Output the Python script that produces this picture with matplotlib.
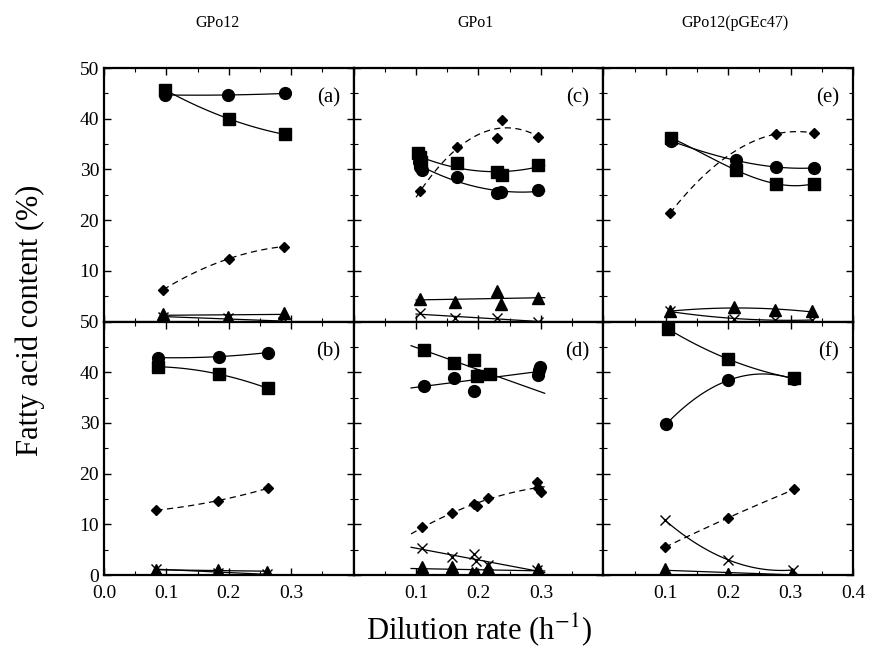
import numpy as np
import matplotlib
matplotlib.use("Agg")
import matplotlib.pyplot as plt
from matplotlib.ticker import MultipleLocator, FixedLocator

plt.rcParams['font.family'] = ['Liberation Serif', 'DejaVu Serif']
plt.rcParams['mathtext.fontset'] = 'stix'

strains = ["GPo12", "GPo1", "GPo12(pGEc47)"]
letters = ["a", "b", "c", "d", "e", "f"]

# (a) GPo12, upper
a_circ_x = [0.097, 0.199, 0.290]
a_circ_y = [44.7, 44.7, 45.0]
a_sq_x = [0.098, 0.200, 0.290]
a_sq_y = [45.7, 40.0, 36.9]
a_dia_x = [0.095, 0.200, 0.288]
a_dia_y = [6.3, 12.4, 14.8]
a_tri_x = [0.095, 0.198, 0.288]
a_tri_y = [1.4, 1.0, 1.6]
a_x_x = [0.095, 0.198, 0.287]
a_x_y = [0.9, 0.7, 0.0]

# (b) GPo12, lower
b_circ_x = [0.086, 0.185, 0.263]
b_circ_y = [42.9, 43.1, 43.9]
b_sq_x = [0.086, 0.185, 0.263]
b_sq_y = [41.1, 39.6, 36.8]
b_dia_x = [0.084, 0.183, 0.262]
b_dia_y = [12.8, 14.7, 17.1]
b_tri_x = [0.084, 0.182, 0.261]
b_tri_y = [1.0, 1.0, 0.7]
b_x_x = [0.084, 0.182, 0.261]
b_x_y = [1.2, 0.5, 0.2]

# (c) GPo1, upper
c_circ_x = [0.105, 0.107, 0.109, 0.165, 0.230, 0.236, 0.296]
c_circ_y = [31.5, 30.5, 29.8, 28.5, 25.3, 25.6, 25.9]
c_sq_x = [0.103, 0.106, 0.108, 0.165, 0.230, 0.237, 0.296]
c_sq_y = [33.3, 32.5, 31.5, 31.2, 29.5, 28.9, 30.8]
c_dia_x = [0.107, 0.165, 0.237, 0.230, 0.296]
c_dia_y = [25.7, 34.4, 39.8, 36.2, 36.5]
c_tri_x = [0.107, 0.163, 0.229, 0.236, 0.295]
c_tri_y = [4.5, 3.8, 6.1, 3.5, 4.6]
c_x_x = [0.107, 0.163, 0.230, 0.296]
c_x_y = [1.6, 0.7, 0.7, 0.0]

# (d) GPo1, lower
d_circ_x = [0.112, 0.160, 0.193, 0.197, 0.297, 0.299, 0.296]
d_circ_y = [37.3, 38.9, 36.4, 39.4, 40.4, 41.0, 39.4]
d_sq_x = [0.112, 0.161, 0.193, 0.197, 0.219]
d_sq_y = [44.4, 41.9, 42.5, 39.3, 39.6]
d_dia_x = [0.110, 0.158, 0.193, 0.197, 0.216, 0.294, 0.296, 0.300]
d_dia_y = [9.4, 12.3, 14.1, 13.7, 15.2, 18.4, 17.1, 16.4]
d_tri_x = [0.110, 0.158, 0.190, 0.196, 0.215, 0.295]
d_tri_y = [1.5, 1.5, 0.5, 0.5, 1.3, 1.1]
d_x_x = [0.109, 0.158, 0.192, 0.196, 0.216, 0.293]
d_x_y = [5.3, 3.5, 4.2, 2.7, 2.0, 1.0]

# (e) GPo12(pGEc47), upper
e_circ_x = [0.109, 0.212, 0.276, 0.337]
e_circ_y = [35.6, 31.8, 30.5, 30.3]
e_sq_x = [0.109, 0.212, 0.276, 0.337]
e_sq_y = [36.2, 29.9, 27.2, 27.2]
e_dia_x = [0.107, 0.276, 0.337]
e_dia_y = [21.4, 37.0, 37.2]
e_tri_x = [0.106, 0.209, 0.275, 0.335]
e_tri_y = [2.0, 2.9, 2.2, 2.0]
e_x_x = [0.106, 0.209, 0.275, 0.334]
e_x_y = [2.0, 0.6, 0.3, 0.3]

# (f) GPo12(pGEc47), lower
f_circ_x = [0.101, 0.200, 0.306]
f_circ_y = [29.8, 38.4, 38.6]
f_sq_x = [0.103, 0.200, 0.306]
f_sq_y = [48.6, 42.6, 38.8]
f_dia_x = [0.099, 0.200, 0.306]
f_dia_y = [5.5, 11.3, 16.9]
f_tri_x = [0.098, 0.200, 0.303]
f_tri_y = [1.1, 0.2, 0.2]
f_x_x = [0.098, 0.200, 0.304]
f_x_y = [10.9, 3.0, 1.0]

panels = {
    "a": [(a_circ_x, a_circ_y, 2), (a_sq_x, a_sq_y, 2), (a_dia_x, a_dia_y, 2), (a_tri_x, a_tri_y, 1), (a_x_x, a_x_y, 1)],
    "b": [(b_circ_x, b_circ_y, 2), (b_sq_x, b_sq_y, 2), (b_dia_x, b_dia_y, 2), (b_tri_x, b_tri_y, 1), (b_x_x, b_x_y, 1)],
    "c": [(c_circ_x, c_circ_y, 2), (c_sq_x, c_sq_y, 2), (c_dia_x, c_dia_y, 2), (c_tri_x, c_tri_y, 1), (c_x_x, c_x_y, 1)],
    "d": [(d_circ_x, d_circ_y, 1), (d_sq_x, d_sq_y, 1), (d_dia_x, d_dia_y, 2), (d_tri_x, d_tri_y, 1), (d_x_x, d_x_y, 1)],
    "e": [(e_circ_x, e_circ_y, 3), (e_sq_x, e_sq_y, 3), (e_dia_x, e_dia_y, 2), (e_tri_x, e_tri_y, 2), (e_x_x, e_x_y, 2)],
    "f": [(f_circ_x, f_circ_y, 2), (f_sq_x, f_sq_y, 2), (f_dia_x, f_dia_y, 2), (f_tri_x, f_tri_y, 1), (f_x_x, f_x_y, 2)],
}
# curve x-range for (c) and (d), which extend past the points
spans = {"c": (0.100, 0.306), "d": (0.092, 0.306)}

styles = [
    dict(marker="o", ms=8.5, mfc="k", mec="k", ls="-"),
    dict(marker="s", ms=8, mfc="k", mec="k", ls="-"),
    dict(marker="D", ms=5.5, mfc="k", mec="k", ls=(0, (5, 3.5))),
    dict(marker="^", ms=8, mfc="k", mec="k", ls="-"),
    dict(marker="x", ms=7, mfc="none", mec="k", mew=1.0, ls="-"),
]

fig, axes = plt.subplots(2, 3, figsize=(8.7, 6.61), dpi=100)
fig.subplots_adjust(left=0.1195, right=0.9805, top=0.897, bottom=0.130, wspace=0, hspace=0)

order = [["a", "c", "e"], ["b", "d", "f"]]
for r in range(2):
    for c in range(3):
        ax = axes[r, c]
        key = order[r][c]
        for (xs, ys, deg), st in zip(panels[key], styles):
            xs = np.array(xs)
            ys = np.array(ys)
            lo, hi = spans.get(key, (xs.min(), xs.max()))
            coef = np.polyfit(xs, ys, deg)
            xx = np.linspace(lo, hi, 100)
            ax.plot(xx, np.polyval(coef, xx), color="k", lw=0.9, ls=st["ls"], zorder=2)
            ax.plot(xs, ys, ls="none", marker=st["marker"], ms=st["ms"],
                    mfc=st["mfc"], mec=st["mec"], mew=st.get("mew", 1.0), zorder=3)
        ax.set_xlim(0, 0.4)
        ax.set_ylim(0, 50)
        ax.xaxis.set_major_locator(MultipleLocator(0.1))
        ax.xaxis.set_minor_locator(MultipleLocator(0.05))
        ax.yaxis.set_major_locator(MultipleLocator(10))
        ax.yaxis.set_minor_locator(MultipleLocator(5))
        ax.tick_params(which="both", direction="in", top=True, right=True, labelsize=14)
        ax.tick_params(which="major", length=5, width=1)
        ax.tick_params(which="minor", length=3, width=0.8)
        for sp in ax.spines.values():
            sp.set_linewidth(1.6)
        ax.text(0.945, 0.92, "(%s)" % key, transform=ax.transAxes, ha="right", va="top", fontsize=15)

        if c == 0:
            if r == 0:
                ax.yaxis.set_major_locator(FixedLocator([10, 20, 30, 40, 50]))
        else:
            ax.set_yticklabels([])
        if r == 0:
            ax.set_xticklabels([])
        else:
            if c == 0:
                ax.xaxis.set_major_locator(FixedLocator([0.0, 0.1, 0.2, 0.3]))
                ax.set_xticklabels(["0.0", "0.1", "0.2", "0.3"])
            elif c == 1:
                ax.xaxis.set_major_locator(FixedLocator([0.1, 0.2, 0.3]))
                ax.set_xticklabels(["0.1", "0.2", "0.3"])
            else:
                ax.xaxis.set_major_locator(FixedLocator([0.1, 0.2, 0.3, 0.4]))
                ax.set_xticklabels(["0.1", "0.2", "0.3", "0.4"])
            ax.tick_params(axis="x", pad=7)

title_x = [0.25, 0.546, 0.845]
for name, tx in zip(strains, title_x):
    fig.text(tx, 0.965, name, ha="center", va="center", fontsize=11.5)

fig.text(0.55, 0.048, "Dilution rate (h$^{-1}$)", ha="center", va="center", fontsize=22)
fig.text(0.035, 0.515, "Fatty acid content (%)", ha="center", va="center", rotation=90, fontsize=22)

fig.savefig("out.png", dpi=100)
